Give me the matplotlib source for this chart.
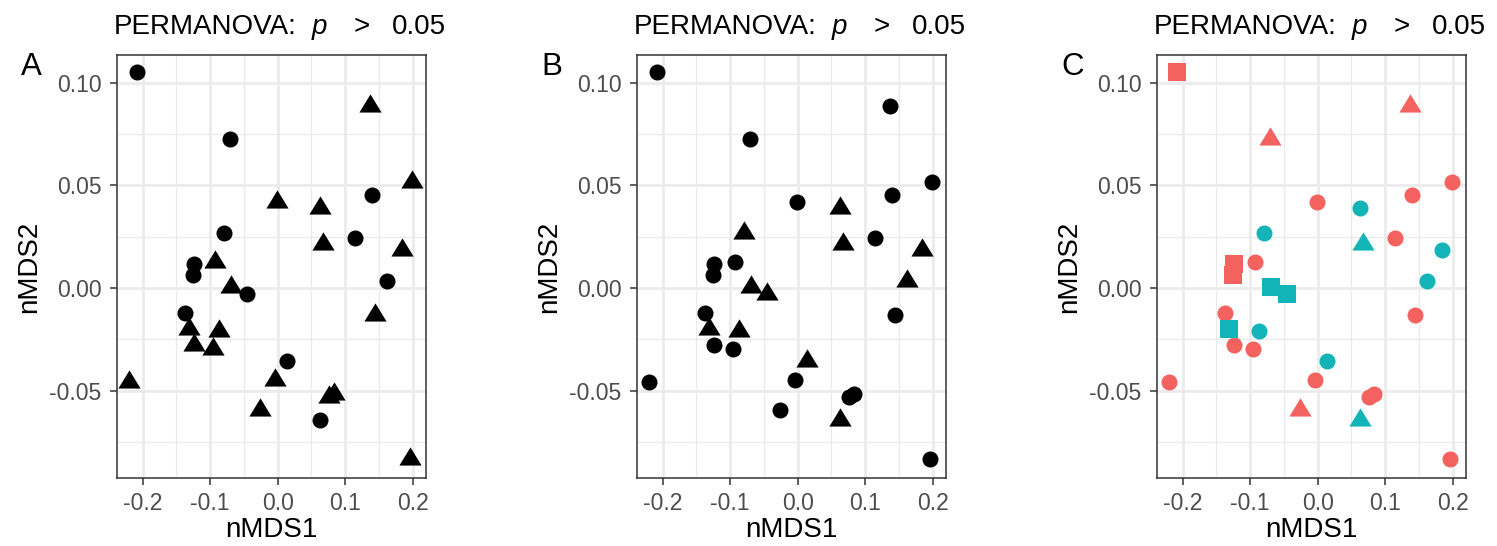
import matplotlib
matplotlib.use("Agg")
import matplotlib.pyplot as plt
import numpy as np
from matplotlib.path import Path

plt.rcParams['font.family'] = ['Liberation Sans', 'DejaVu Sans']

# ---- data ----
nmds1 = [-0.2089, -0.0701, 0.1370, 0.1990, 0.1405, -0.0012, 0.0622, 0.0667, 0.1152, -0.0800,
         -0.0924, 0.1846, -0.1237, -0.1257, 0.1623, -0.0687, -0.0454, -0.1375, 0.1445, -0.1306,
         -0.0865, -0.1232, -0.0964, 0.0141, -0.2208, -0.0032, 0.0830, 0.0761, -0.0265, 0.0627,
         0.1965]
nmds2 = [0.1050, 0.0727, 0.0885, 0.0516, 0.0451, 0.0417, 0.0391, 0.0216, 0.0242, 0.0269,
         0.0125, 0.0187, 0.0119, 0.0063, 0.0032, 0.0003, -0.0028, -0.0120, -0.0133, -0.0200,
         -0.0211, -0.0276, -0.0295, -0.0356, -0.0458, -0.0450, -0.0516, -0.0532, -0.0596, -0.0643,
         -0.0833]
# panel A shape grouping (c = circle, t = triangle)
shape_a = list("cctt" "cttt" "cctt" "ccct" "cctt" "tttc" "tttt" "tct")
# panel B shape grouping
shape_b = list("cccc" "cctt" "ctct" "cctt" "tcct" "tcct" "cccc" "ctc")
# panel C colour grouping (r = red, t = teal) and shape grouping (s = square)
colour_c = list("rrrr" "rrtt" "rtrt" "rrtt" "trrt" "trrt" "rrrr" "rtr")
shape_c = list("sttc" "ccct" "cccc" "sscs" "sccs" "cccc" "cccc" "ttc")
tick_x = [-0.2, -0.1, 0.0, 0.1, 0.2]
tick_y = [-0.05, 0.00, 0.05, 0.10]
title_parts = ["PERMANOVA:", "p", ">", "0.05"]
tags = ["A", "B", "C"]
x_label = "nMDS1"
y_label = "nMDS2"

# ---- markers ----
tri = Path([(0, 12), (-11, -6), (11, -6), (0, 12)],
           [Path.MOVETO, Path.LINETO, Path.LINETO, Path.CLOSEPOLY])
marker_of = {'c': 'o', 't': tri, 's': 's'}
size_of = {'c': 133, 't': 305, 's': 150}
col_of = {'r': '#F3625E', 't': '#13B4B8'}

W, H = 1497, 546
fig = plt.figure(figsize=(W / 100, H / 100), dpi=100)
lefts = [117, 637, 1157]
ax_w, top, bot = 309, 55, 478


def fx(px):
    return px / W


def fy(py):
    return (H - py) / H


x = np.array(nmds1)
y = np.array(nmds2)

title_offsets = [-3, 195, 237, 275]
title_styles = ['normal', 'italic', 'normal', 'normal']

for i in range(3):
    L = lefts[i]
    ax = fig.add_axes([fx(L), fy(bot), ax_w / W, (bot - top) / H])
    ax.set_xlim(-0.238, 0.2198)
    ax.set_ylim(-0.0925, 0.1135)
    ax.set_facecolor('white')
    ax.set_xticks(tick_x)
    ax.set_xticklabels([f"{v:.1f}" for v in tick_x])
    ax.set_yticks(tick_y)
    ax.set_yticklabels([f"{v:.2f}" for v in tick_y])
    ax.set_xticks([-0.15, -0.05, 0.05, 0.15], minor=True)
    ax.set_yticks([-0.075, -0.025, 0.025, 0.075], minor=True)
    ax.grid(which='major', color='#EBEBEB', linewidth=2.0)
    ax.grid(which='minor', color='#EBEBEB', linewidth=1.0)
    ax.set_axisbelow(True)
    for s in ax.spines.values():
        s.set_color('#333333')
        s.set_linewidth(1.1)
    ax.tick_params(which='major', length=5.0, width=1.1, color='#333333',
                   labelsize=16.5, labelcolor='#4D4D4D')
    ax.tick_params(axis='x', which='major', pad=5.0)
    ax.tick_params(axis='y', which='major', pad=6.0)
    ax.tick_params(which='minor', length=0)

    # axis labels
    fig.text(fx(L + ax_w / 2), fy(537), x_label, fontsize=20, ha='center', va='baseline')
    fig.text(fx(L - 88), fy((top + bot) / 2), y_label, fontsize=20, rotation=90,
             ha='center', va='center')

    # title pieces
    for part, off, sty in zip(title_parts, title_offsets, title_styles):
        fig.text(fx(L + off), fy(34), part, fontsize=20, style=sty,
                 ha='left', va='baseline')

    # tag
    fig.text(fx(L - 96), fy(75), tags[i], fontsize=22.5, ha='left', va='baseline')

    if i < 2:
        grp = np.array(shape_a if i == 0 else shape_b)
        for k in ['c', 't']:
            m = grp == k
            ax.scatter(x[m], y[m], marker=marker_of[k], s=size_of[k], c='black',
                       linewidths=0, zorder=3)
    else:
        cg = np.array(colour_c)
        sg = np.array(shape_c)
        for ck in ['r', 't']:
            for sk in ['c', 't', 's']:
                m = (cg == ck) & (sg == sk)
                if m.any():
                    ax.scatter(x[m], y[m], marker=marker_of[sk], s=size_of[sk],
                               c=col_of[ck], linewidths=0, zorder=3)

fig.savefig("out.png", dpi=100, facecolor='white')
